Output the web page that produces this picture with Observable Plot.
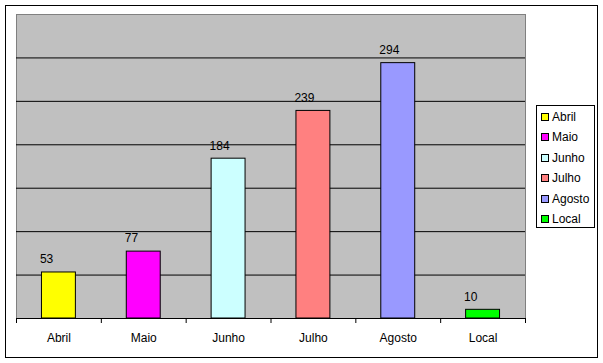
<!DOCTYPE html>
<html>
<head>
<meta charset="utf-8">
<script src="https://cdn.jsdelivr.net/npm/d3@7"></script>
<script src="https://cdn.jsdelivr.net/npm/@observablehq/plot@0.6"></script>
<style>
  html, body { margin: 0; padding: 0; background: #fff; }
  #wrap { position: relative; width: 603px; height: 363px; font-family: "Liberation Sans", Arial, sans-serif; }
  #border { position: absolute; left: 5px; top: 5px; width: 591px; height: 351px; border: 1px solid #000; pointer-events: none; }
  #chart { position: absolute; left: 0; top: 0; }
  #legend { position: absolute; left: 536px; top: 105px; width: 57px; height: 121px; border: 1px solid #000; background: #fff; box-sizing: content-box; }
  .item { position: absolute; left: 4px; height: 16px; font-size: 12px; line-height: 16px; color: #000; white-space: nowrap; }
  .sw { display: inline-block; width: 6px; height: 6px; border: 1px solid #000; margin-right: 3px; vertical-align: 0px; }
</style>
</head>
<body>
<div id="wrap">
  <div id="chart"></div>
  <div id="legend"></div>
  <div id="border"></div>
</div>
<script>
const months = ["Abril", "Maio", "Junho", "Julho", "Agosto", "Local"];
const values = [53, 77, 184, 239, 294, 10];
const colors = ["#FFFF00", "#FF00FF", "#CCFFFF", "#FF8080", "#9999FF", "#00FF00"];
const yTicks = [0, 50, 100, 150, 200, 250, 300, 350];

const data = months.map((m, i) => ({ m, v: values[i], i }));

const chart = Plot.plot({
  width: 603,
  height: 363,
  marginLeft: 16,
  marginRight: 78,
  marginTop: 14,
  marginBottom: 45,
  style: { fontFamily: "'Liberation Sans', Arial, sans-serif", fontSize: "12px", background: "transparent", color: "#000" },
  x: { domain: [0, months.length], axis: null },
  y: { domain: [0, 350], axis: null },
  color: { domain: months, range: colors },
  marks: [
    Plot.frame({ fill: "#C0C0C0", stroke: "#808080" }),
    Plot.ruleY(yTicks.slice(1, -1), { stroke: "#000", strokeWidth: 1 }),
    Plot.rectY(data, { x1: d => d.i + 0.3, x2: d => d.i + 0.7, y: "v", fill: "m", stroke: "#000", strokeWidth: 1 }),
    Plot.text(data, { x: d => d.i + 0.3, y: "v", text: d => String(d.v), dy: -13, dx: -2, textAnchor: "start", fill: "#000", fontSize: 12 }),
    Plot.ruleY([0], { stroke: "#000", strokeWidth: 1 }),
    Plot.axisX(d3.range(months.length + 1), { tickSize: 5, tickFormat: () => "", label: null, stroke: "#000" }),
    Plot.axisX(d3.range(months.length).map(i => i + 0.5), { tickSize: 0, tickPadding: 15, tickFormat: x => months[Math.round(x - 0.5)], label: null, fill: "#000", fontSize: 12 })
  ]
});
document.getElementById("chart").appendChild(chart);

const legend = document.getElementById("legend");
months.forEach((m, i) => {
  const it = document.createElement("div");
  it.className = "item";
  it.style.top = (3 + i * 20.4) + "px";
  const sw = document.createElement("span");
  sw.className = "sw";
  sw.style.background = colors[i];
  it.appendChild(sw);
  it.appendChild(document.createTextNode(m));
  legend.appendChild(it);
});
</script>
</body>
</html>
